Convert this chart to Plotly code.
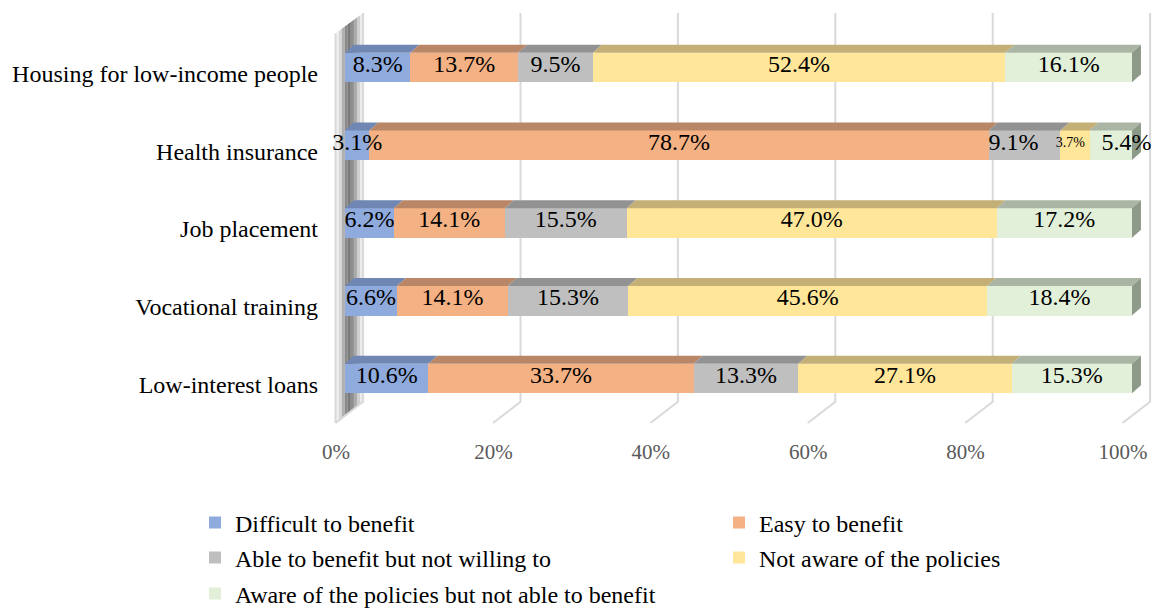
import plotly.graph_objects as go

# ---------------- data ----------------
categories = ["Low-interest loans", "Vocational training", "Job placement",
              "Health insurance", "Housing for low-income people"]
series_names = ["Difficult to benefit", "Easy to benefit",
                "Able to benefit but not willing to", "Not aware of the policies",
                "Aware of the policies but not able to benefit"]
difficult = [10.6, 6.6, 6.2, 3.1, 8.3]
easy = [33.7, 14.1, 14.1, 78.7, 13.7]
able_not_willing = [13.3, 15.3, 15.5, 9.1, 9.5]
not_aware = [27.1, 45.6, 47.0, 3.7, 52.4]
aware_not_able = [15.3, 18.4, 17.2, 5.4, 16.1]
tick_values = [0, 20, 40, 60, 80, 100]
tick_labels = ["0%", "20%", "40%", "60%", "80%", "100%"]

series = [difficult, easy, able_not_willing, not_aware, aware_not_able]

# ---------------- style ----------------
FONT = "Liberation Serif, Times New Roman, serif"
front_colors = ["#8FAADC", "#F4B183", "#BFBFBF", "#FFE699", "#E2F0D9"]
top_colors = ["#6F87B2", "#BA8668", "#929292", "#C4AF76", "#AAB5A3"]
side_color = "#8E9A89"
grid_color = "#D9D9D9"
wall_shades = ["#EFEFEF", "#D8D8D8", "#B0B0B0", "#8A8A8A", "#7A7A7A",
               "#8E8E8E", "#ABABAB", "#CFCFCF", "#EAEAEA"]

BAR_W = 0.382          # bar thickness (category units)
DX, DY = 1.14, 0.103   # 3D depth offset of bars (x %, y units)
BACK_DX, FRONT_DX = 2.3, -1.2   # floor / wall depth offsets (x %)
Y_TOP, Y_BACK_FLOOR, Y_FRONT_FLOOR = 4.70, -0.30, -0.572
WALL_FRONT_TOP = 4.44

# label nudges (x %, per (series, category)) to avoid collisions, as in the original
label_nudge = {(2, 3): -1.4, (3, 3): -0.6, (4, 3): 2.0}
small_label = {(3, 3): 14}

pos = list(range(len(categories)))

fig = go.Figure()
shapes = []

# left wall (3D side wall) drawn as shaded strips, below the bars
n = len(wall_shades)
for k, col in enumerate(wall_shades):
    f0, f1 = k / n, (k + 1) / n
    pts = []
    for f in (f0, f1):
        xw = FRONT_DX + f * (BACK_DX - FRONT_DX)
        yb = Y_FRONT_FLOOR + f * (Y_BACK_FLOOR - Y_FRONT_FLOOR)
        yt = WALL_FRONT_TOP + f * (Y_TOP - WALL_FRONT_TOP)
        pts.append((xw, yb, yt))
    (xa, yba, yta), (xb, ybb, ytb) = pts
    path = f"M{xa},{yba} L{xa},{yta} L{xb},{ytb} L{xb},{ybb} Z"
    shapes.append(dict(type="path", path=path, xref="x", yref="y", layer="below",
                       fillcolor=col, line=dict(width=0)))
# wall edges
shapes.append(dict(type="path", xref="x", yref="y", layer="below",
                   path=f"M{FRONT_DX},{Y_FRONT_FLOOR} L{FRONT_DX},{WALL_FRONT_TOP}",
                   line=dict(color=grid_color, width=2)))

# back gridlines with floor diagonal (0% = wall back edge)
for t in tick_values:
    path = (f"M{t + BACK_DX},{Y_TOP} L{t + BACK_DX},{Y_BACK_FLOOR} "
            f"L{t + FRONT_DX},{Y_FRONT_FLOOR}")
    shapes.append(dict(type="path", path=path, xref="x", yref="y", layer="below",
                       line=dict(color=grid_color, width=2)))

# bars (front faces)
legend_ids = ["legend", "legend", "legend2", "legend2", "legend3"]
for s, name in enumerate(series_names):
    fig.add_trace(go.Bar(
        y=pos, x=series[s], orientation="h", name=name, width=BAR_W,
        marker=dict(color=front_colors[s], line=dict(width=0)),
        legend=legend_ids[s], hoverinfo="x+name"))

# top faces of bars
cum = [0.0] * len(categories)
starts = []
for s in range(len(series)):
    starts.append(cum[:])
    cum = [c + v for c, v in zip(cum, series[s])]

for s in range(len(series)):
    tx, ty = [], []
    for i in pos:
        x0 = starts[s][i]
        x1 = x0 + series[s][i]
        yt = i + BAR_W / 2
        tx += [x0, x1, x1 + DX, x0 + DX, x0, None]
        ty += [yt, yt, yt + DY, yt + DY, yt, None]
    fig.add_trace(go.Scatter(x=tx, y=ty, mode="lines", fill="toself",
                             fillcolor=top_colors[s], line=dict(width=0, color=top_colors[s]),
                             hoverinfo="skip", showlegend=False))

# right side faces (end of last segment)
sx, sy = [], []
for i in pos:
    xe = cum[i]
    yb, yt = i - BAR_W / 2, i + BAR_W / 2
    sx += [xe, xe, xe + DX, xe + DX, xe, None]
    sy += [yb, yt, yt + DY, yb + DY, yb, None]
fig.add_trace(go.Scatter(x=sx, y=sy, mode="lines", fill="toself",
                         fillcolor=side_color, line=dict(width=0, color=side_color),
                         hoverinfo="skip", showlegend=False))

# data labels
lx, ly, lt, ls = [], [], [], []
for s in range(len(series)):
    for i in pos:
        v = series[s][i]
        lx.append(starts[s][i] + v / 2 + label_nudge.get((s, i), 0))
        ly.append(i + 0.02)
        lt.append(f"{v:.1f}%")
        ls.append(small_label.get((s, i), 24))
fig.add_trace(go.Scatter(x=lx, y=ly, mode="text", text=lt,
                         textposition="middle center",
                         textfont=dict(family=FONT, size=ls, color="#000000"),
                         cliponaxis=False, hoverinfo="skip", showlegend=False))

# ---------------- layout ----------------
L, R, T, B = 333, 3, 8, 173
PX_PER_PCT = 7.87
PX_PER_CAT = 77.75
plot_w = 1160 - L - R
plot_h = 608 - T - B
x_min = -(345 - L) / PX_PER_PCT
x_max = x_min + plot_w / PX_PER_PCT
y_min = (378.5 - (608 - B)) / PX_PER_CAT
y_max = (378.5 - T) / PX_PER_CAT


def px_to_paper_x(px):
    return (px - L) / plot_w


def px_to_paper_y(py):
    return ((608 - B) - py) / plot_h


legend_common = dict(orientation="h", font=dict(family=FONT, size=24, color="#000000"),
                     bgcolor="rgba(0,0,0,0)", entrywidth=479, entrywidthmode="pixels",
                     xanchor="left", yanchor="middle", itemclick=False, itemdoubleclick=False,
                     traceorder="normal")

fig.update_layout(
    template="none",
    width=1160, height=608,
    margin=dict(l=L, r=R, t=T, b=B, autoexpand=False),
    paper_bgcolor="#FFFFFF", plot_bgcolor="rgba(0,0,0,0)",
    barmode="stack", bargap=0,
    showlegend=True,
    shapes=shapes,
    legend=dict(legend_common, x=px_to_paper_x(195), y=px_to_paper_y(523)),
    legend2=dict(legend_common, x=px_to_paper_x(195), y=px_to_paper_y(558)),
    legend3=dict(legend_common, x=px_to_paper_x(195), y=px_to_paper_y(594)),
    xaxis=dict(range=[x_min, x_max], tickvals=tick_values, ticktext=tick_labels,
               showgrid=False, zeroline=False, showline=False, ticks="",
               tickfont=dict(family=FONT, size=21, color="#595959"),
               ticklabelshift=-9, ticklabelstandoff=2, automargin=False, fixedrange=True),
    yaxis=dict(range=[y_min, y_max], tickvals=pos, ticktext=categories,
               showgrid=False, zeroline=False, showline=False, ticks="",
               tickfont=dict(family=FONT, size=24, color="#000000"),
               ticklabelshift=6, ticklabelstandoff=14, automargin=False, fixedrange=True),
    font=dict(family=FONT),
)

fig.write_html("out.html")
